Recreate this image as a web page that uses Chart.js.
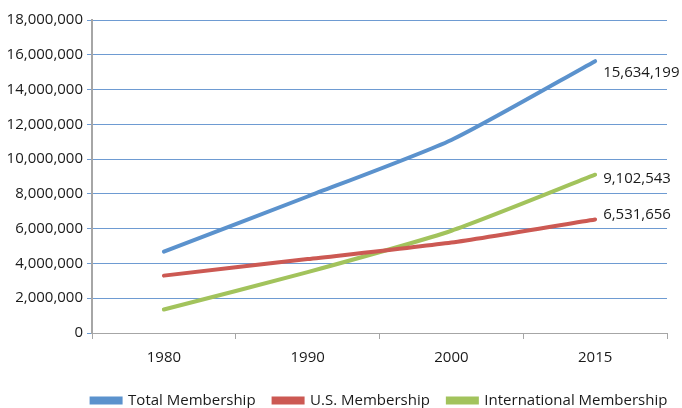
<!DOCTYPE html>
<html lang="en">
<head>
  <meta charset="UTF-8">
  <title>Membership</title>
  <style>
    body { margin: 0; background: #fff; overflow: hidden; }
    #wrap { width: 682px; height: 408px; overflow: hidden; }
  </style>
</head>
<body>
<div id="wrap"><canvas id="chart" width="682" height="418"></canvas></div>

<script src="https://cdn.jsdelivr.net/npm/chart.js@4.4.0/dist/chart.umd.min.js"></script>
<script>
  // chart data
  var years = ['1980', '1990', '2000', '2015'];
  var totalMembers = [4680000, 7850000, 11100000, 15634199];
  var usMembers = [3300000, 4250000, 5200000, 6531656];
  var intlMembers = [1350000, 3500000, 5880000, 9102543];

  var fmt = function (v) { return v.toLocaleString('en-US'); };

  // writes the value next to the last point of every line
  var endLabels = {
    id: 'endLabels',
    afterDatasetsDraw: function (chart) {
      var c = chart.ctx;
      var dy = [12, -5, 4];
      c.save();
      c.font = '15px "Open Sans", sans-serif';
      c.fillStyle = '#1a1a1a';
      c.textBaseline = 'middle';
      chart.data.datasets.forEach(function (ds, i) {
        var pts = chart.getDatasetMeta(i).data;
        var p = pts[pts.length - 1];
        c.fillText(fmt(ds.data[ds.data.length - 1]), p.x + 8, p.y + dy[i]);
      });
      c.restore();
    }
  };

  // center the legend row under the plot area instead of the whole canvas
  var legendShift = {
    id: 'legendShift',
    afterLayout: function (chart) {
      var lg = chart.legend;
      var d = (chart.chartArea.left + chart.chartArea.right) / 2 - (lg.left + lg.right) / 2;
      lg.left += d;
      lg.right += d;
    }
  };

  Chart.defaults.font.family = '"Open Sans", sans-serif';
  Chart.defaults.font.size = 15;
  Chart.defaults.color = '#1a1a1a';

  new Chart(document.getElementById('chart'), {
    type: 'line',
    data: {
      labels: years,
      datasets: [
        { label: 'Total Membership', data: totalMembers, borderColor: '#5b92cd', backgroundColor: '#5b92cd' },
        { label: 'U.S. Membership', data: usMembers, borderColor: '#cc5953', backgroundColor: '#cc5953' },
        { label: 'International Membership', data: intlMembers, borderColor: '#a2c35c', backgroundColor: '#a2c35c' }
      ]
    },
    options: {
      responsive: false,
      animation: false,
      elements: {
        line: { borderWidth: 4, tension: 0.2, borderCapStyle: 'round' },
        point: { radius: 0 }
      },
      layout: { padding: { top: 20, right: 15, bottom: 0, left: 0 } },
      scales: {
        x: {
          offset: true,
          afterFit: function (s) { s.height = 42; },
          grid: { offset: true, drawOnChartArea: false, tickLength: 6, color: '#a6a6a6' },
          border: { color: '#a6a6a6', width: 1 },
          ticks: { padding: 10 }
        },
        y: {
          min: 0,
          max: 18000000,
          afterFit: function (s) { s.width = 92; },
          ticks: { stepSize: 2000000, callback: function (v) { return fmt(v); }, padding: 4 },
          grid: { color: '#6e9bd2', tickLength: 5, lineWidth: 1 },
          border: { color: '#a6a6a6', width: 2 }
        }
      },
      plugins: {
        legend: {
          position: 'bottom',
          labels: { boxWidth: 29, boxHeight: 4, padding: 18, font: { size: 15 } }
        },
        tooltip: { enabled: false }
      }
    },
    plugins: [endLabels, legendShift]
  });
</script>
</body>
</html>
